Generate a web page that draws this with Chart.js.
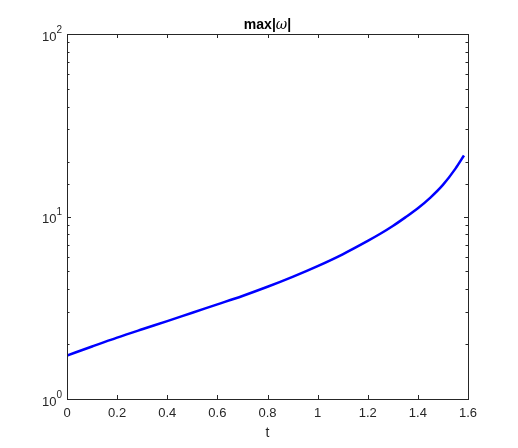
<!DOCTYPE html>
<html>
<head>
<meta charset="utf-8">
<script src="https://cdn.jsdelivr.net/npm/chart.js@4/dist/chart.umd.min.js"></script>
<style>
    html, body { margin: 0; padding: 0; background: #fff; }
    #chart { display: block; }
</style>
</head>
<body>
<canvas id="chart" width="518" height="448"></canvas>
<script>
// Data
const tValues = [0, 0.1, 0.2, 0.3, 0.4, 0.5, 0.6, 0.7, 0.8, 0.9, 1.0, 1.1, 1.2, 1.25, 1.3, 1.35, 1.4, 1.45, 1.5, 1.55, 1.584];
const maxOmega = [1.73, 1.94, 2.17, 2.41, 2.67, 2.97, 3.30, 3.67, 4.12, 4.67, 5.35, 6.21, 7.35, 8.04, 8.87, 9.89, 11.1, 12.7, 14.9, 18.3, 21.6];
const xTicks = [0, 0.2, 0.4, 0.6, 0.8, 1, 1.2, 1.4, 1.6];
const yDecades = [0, 1, 2];

const axisColor = '#262626';
const fontFamily = '"Liberation Sans", Arial, Helvetica, sans-serif';

// --- MATLAB style frame: box, inward ticks, 10^n labels, title ---
const matlabFrame = {
    id: 'matlabFrame',
    afterDraw(chart) {
        const ctx = chart.ctx;
        const area = chart.chartArea;
        const xs = chart.scales.x;
        const ys = chart.scales.y;
        ctx.save();
        ctx.strokeStyle = axisColor;
        ctx.lineWidth = 1;
        ctx.strokeRect(Math.round(area.left) + 0.5, Math.round(area.top) + 0.5,
            Math.round(area.right - area.left), Math.round(area.bottom - area.top));

        // x ticks, bottom and top
        ctx.beginPath();
        xTicks.forEach(v => {
            const px = Math.round(xs.getPixelForValue(v)) + 0.5;
            ctx.moveTo(px, area.bottom); ctx.lineTo(px, area.bottom - 4);
            ctx.moveTo(px, area.top); ctx.lineTo(px, area.top + 4);
        });
        // y ticks, log minor and major
        ys.ticks.forEach(t => {
            const lg = Math.log10(t.value);
            const major = Math.abs(lg - Math.round(lg)) < 1e-9;
            const len = major ? 4 : 2.5;
            const py = Math.round(ys.getPixelForValue(t.value)) + 0.5;
            ctx.moveTo(area.left, py); ctx.lineTo(area.left + len, py);
            ctx.moveTo(area.right, py); ctx.lineTo(area.right - len, py);
        });
        ctx.stroke();

        // x tick labels
        ctx.fillStyle = axisColor;
        ctx.font = '13px ' + fontFamily;
        ctx.textAlign = 'center';
        ctx.textBaseline = 'top';
        xTicks.forEach(v => {
            ctx.fillText(String(v), xs.getPixelForValue(v), area.bottom + 8);
        });
        // x axis title
        ctx.font = '14px ' + fontFamily;
        ctx.fillText('t', (area.left + area.right) / 2, area.bottom + 27);

        // y tick labels 10^n
        yDecades.forEach(n => {
            const py = ys.getPixelForValue(Math.pow(10, n));
            ctx.font = '10px ' + fontFamily;
            const expW = ctx.measureText(String(n)).width;
            ctx.textAlign = 'right';
            ctx.textBaseline = 'alphabetic';
            ctx.fillText(String(n), area.left - 5, py - 1.5);
            ctx.font = '13px ' + fontFamily;
            ctx.fillText('10', area.left - 5 - expW, py + 6.5);
        });

        // title: max|ω|
        const parts = [
            { text: 'max|', font: 'bold 14px ' + fontFamily },
            { text: 'ω', font: 'italic 14px "DejaVu Serif", serif' },
            { text: '|', font: 'bold 14px ' + fontFamily }
        ];
        let total = 0;
        parts.forEach(p => { ctx.font = p.font; p.w = ctx.measureText(p.text).width; total += p.w; });
        let cx = (area.left + area.right) / 2 - total / 2;
        ctx.textAlign = 'left';
        ctx.textBaseline = 'alphabetic';
        ctx.fillStyle = '#000';
        parts.forEach(p => { ctx.font = p.font; ctx.fillText(p.text, cx, area.top - 5); cx += p.w; });
        ctx.restore();
    }
};

const ctx = document.getElementById('chart').getContext('2d');
new Chart(ctx, {
    type: 'line',
    data: {
        datasets: [{
            label: 'max|ω|',
            data: tValues.map((t, i) => ({ x: t, y: maxOmega[i] })),
            borderColor: '#0000ff',
            borderWidth: 2.5,
            pointRadius: 0,
            cubicInterpolationMode: 'monotone',
            fill: false
        }]
    },
    options: {
        responsive: false,
        animation: false,
        events: [],
        layout: { padding: { left: 0, right: 50, top: 34, bottom: 0 } },
        plugins: { legend: { display: false }, tooltip: { enabled: false } },
        scales: {
            x: {
                type: 'linear',
                min: 0,
                max: 1.6,
                grid: { display: false },
                border: { display: false },
                ticks: { display: false, stepSize: 0.2 },
                afterFit: s => { s.height = 49; }
            },
            y: {
                type: 'logarithmic',
                min: 1,
                max: 100,
                grid: { display: false },
                border: { display: false },
                ticks: { display: false },
                afterFit: s => { s.width = 67; }
            }
        }
    },
    plugins: [matlabFrame]
});
</script>
</body>
</html>
